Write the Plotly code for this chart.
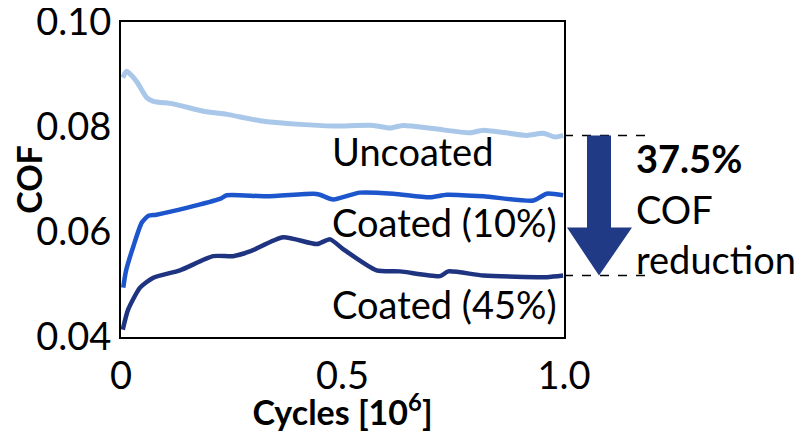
import plotly.graph_objects as go

# Data (cycles in 10^6, COF)
x_unc = [0.004, 0.013, 0.035, 0.058, 0.073, 0.118, 0.186, 0.239, 0.314, 0.404, 0.479,
         0.570, 0.607, 0.637, 0.705, 0.788, 0.818, 0.916, 0.953, 0.980, 0.998]
y_unc = [0.0894, 0.0906, 0.0887, 0.0856, 0.0849, 0.0844, 0.0830, 0.0824, 0.0812, 0.0805, 0.0802,
         0.0803, 0.0798, 0.0803, 0.0797, 0.0789, 0.0794, 0.0784, 0.0788, 0.0781, 0.0784]

x_c10 = [0.005, 0.011, 0.028, 0.047, 0.062, 0.080, 0.148, 0.223, 0.239, 0.329, 0.434,
         0.449, 0.479, 0.539, 0.615, 0.697, 0.735, 0.818, 0.931, 0.961, 0.998]
y_c10 = [0.0494, 0.0525, 0.0573, 0.0618, 0.0631, 0.0633, 0.0646, 0.0663, 0.0670, 0.0668, 0.0673,
         0.0671, 0.0662, 0.0675, 0.0673, 0.0666, 0.0671, 0.0668, 0.0660, 0.0673, 0.0670]

x_c45 = [0.004, 0.016, 0.043, 0.073, 0.133, 0.208, 0.253, 0.291, 0.366, 0.442, 0.472,
         0.502, 0.577, 0.630, 0.720, 0.739, 0.818, 0.961, 0.998]
y_c45 = [0.0414, 0.0452, 0.0494, 0.0513, 0.0527, 0.0554, 0.0554, 0.0563, 0.0590, 0.0577, 0.0586,
         0.0567, 0.0527, 0.0525, 0.0516, 0.0525, 0.0517, 0.0514, 0.0517]

series_names = ["Uncoated", "Coated (10%)", "Coated (45%)"]
series_colors = ["#a9c7e8", "#1d55cc", "#1f3480"]
x_ticks = [0, 0.5, 1.0]
x_ticktext = ["0", "0.5", "1.0"]
y_ticks = [0.04, 0.06, 0.08, 0.10]
y_ticktext = ["0.04", "0.06", "0.08", "0.10"]
reduction_label = "37.5%"

FONT = "Lato"
FS = 38

fig = go.Figure()
for xs, ys, name, col, w in [
    (x_unc, y_unc, series_names[0], series_colors[0], 5),
    (x_c10, y_c10, series_names[1], series_colors[1], 4.5),
    (x_c45, y_c45, series_names[2], series_colors[2], 4.5),
]:
    fig.add_trace(go.Scatter(x=xs, y=ys, mode="lines", name=name,
                             line=dict(color=col, width=w, shape="spline", smoothing=0.6),
                             showlegend=False, cliponaxis=True))

# Series labels inside the plot
label_y = [0.0754, 0.0620, 0.0463]
for name, ly in zip(series_names, label_y):
    fig.add_annotation(x=0.472, y=ly, xref="x", yref="y", text=name, showarrow=False,
                       xanchor="left", yanchor="middle",
                       font=dict(family=FONT, size=FS, color="black"))

y_top = y_unc[-1]
y_bot = y_c45[-1]

# dashed guide lines
for yy in (y_top, y_bot):
    fig.add_shape(type="line", xref="paper", yref="y", x0=1.0, x1=1.187, y0=yy, y1=yy,
                  line=dict(color="black", width=1.5, dash="dash"))

# Down arrow (shaft + head) as a path
def px2paper(px):
    return (px - 121) / 443.0

sx0, sx1 = px2paper(587), px2paper(611)
hx0, hx1 = px2paper(567), px2paper(632)
tx = px2paper(599)
y_head = 0.10 - (228 - 22.5) / 5250.0
path = (f"M {sx0},{y_top} L {sx1},{y_top} L {sx1},{y_head} L {hx1},{y_head} "
        f"L {tx},{y_bot} L {hx0},{y_head} L {sx0},{y_head} Z")
fig.add_shape(type="path", xref="paper", yref="y", path=path,
              fillcolor="#213a85", line=dict(width=0))

# Right-hand text
right_lines = [("<b>" + reduction_label + "</b>", 158), ("COF", 209), ("reduction", 259)]
for txt, py in right_lines:
    fig.add_annotation(x=px2paper(634), y=0.10 - (py - 22.5) / 5250.0, xref="paper", yref="y",
                       text=txt, showarrow=False, xanchor="left", yanchor="middle",
                       font=dict(family=FONT, size=FS, color="black"))

fig.update_layout(
    width=796, height=424,
    margin=dict(l=113, r=240, t=14, b=95, autoexpand=False),
    paper_bgcolor="white", plot_bgcolor="white",
    font=dict(family=FONT, size=FS, color="black"),
    xaxis=dict(range=[0, 1.0], tickvals=x_ticks, ticktext=x_ticktext, showgrid=False,
               zeroline=False, showline=True, linecolor="black", linewidth=2, mirror=True,
               ticks="", tickfont=dict(family=FONT, size=FS), ticklabeloverflow="allow",
               ticklabelstandoff=4, automargin=False,
               title=dict(text="<b>Cycles [10<sup>6</sup>]</b>", font=dict(family=FONT, size=34),
                          standoff=5)),
    yaxis=dict(range=[0.04, 0.100001], tickvals=y_ticks, ticktext=y_ticktext, showgrid=False,
               zeroline=False, showline=True, linecolor="black", linewidth=2, mirror=True,
               ticks="", tickfont=dict(family=FONT, size=FS), ticklabeloverflow="allow",
               automargin=False,
               title=dict(text="<b>COF</b>", font=dict(family=FONT, size=34), standoff=2)),
)

fig.write_html("out.html")
